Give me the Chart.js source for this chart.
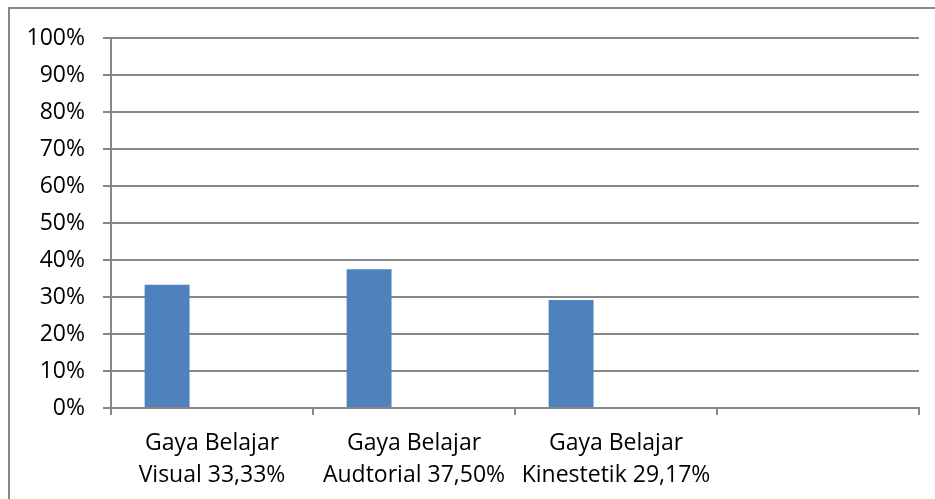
<!DOCTYPE html>
<html>
<head>
<meta charset="utf-8">
<script src="https://cdn.jsdelivr.net/npm/chart.js@4/dist/chart.umd.min.js"></script>
<style>
  html, body { margin: 0; padding: 0; background: #fff; }
  #wrap { width: 935px; height: 499px; position: relative; }
</style>
</head>
<body>
<div id="wrap"><canvas id="myChart" width="935" height="499"></canvas></div>
<script>
// category labels (two lines each), last slot is empty
const categories = [
  ['Gaya Belajar', 'Visual 33,33%'],
  ['Gaya Belajar', 'Audtorial 37,50%'],
  ['Gaya Belajar', 'Kinestetik 29,17%'],
  ''
];
const gayaBelajar = [33.33, 37.50, 29.17, null];
const emptySeries = [null, null, null, null];
const yTicks = [0, 10, 20, 30, 40, 50, 60, 70, 80, 90, 100];

const gray = '#878787';
const labelFont = { family: "'Open Sans', 'Noto Sans', sans-serif", size: 23, lineHeight: 1.4 };

// outer frame around the chart
const frame = {
  id: 'frame',
  beforeDraw(chart) {
    const c = chart.ctx;
    c.save();
    c.fillStyle = '#fff';
    c.fillRect(0, 0, chart.width, chart.height);
    c.strokeStyle = gray;
    c.lineWidth = 2;
    c.strokeRect(9, 8, chart.width + 20, chart.height + 20);
    c.restore();
  }
};

window.addEventListener('load', setup);

function setup() {
  const ctx = document.getElementById('myChart').getContext('2d');
  new Chart(ctx, {
    type: 'bar',
    data: {
      labels: categories,
      datasets: [
        { data: gayaBelajar, backgroundColor: '#4F81BD' },
        { data: emptySeries, backgroundColor: '#C0504D' },
        { data: emptySeries, backgroundColor: '#9BBB59' }
      ]
    },
    options: {
      responsive: false,
      animation: false,
      categoryPercentage: 0.667,
      barPercentage: 1,
      layout: { padding: { top: 38, right: 16, left: 0, bottom: 0 } },
      plugins: { legend: { display: false }, tooltip: { enabled: false } },
      scales: {
        x: {
          grid: { offset: true, drawOnChartArea: false, drawTicks: true, tickLength: 7, color: gray, lineWidth: 2 },
          border: { display: true, color: gray, width: 2 },
          ticks: { color: '#000', font: labelFont, padding: 12, maxRotation: 0, autoSkip: false },
          afterFit(scale) { scale.height = 91; }
        },
        y: {
          min: 0,
          max: 100,
          afterBuildTicks(scale) { scale.ticks = yTicks.map(v => ({ value: v })); },
          grid: { color: gray, lineWidth: 2, tickLength: 8 },
          border: { display: true, color: gray, width: 2 },
          ticks: { color: '#000', font: labelFont, padding: 18, callback: v => v + '%' },
          afterFit(scale) { scale.width = 111; }
        }
      }
    },
    plugins: [frame]
  });
}
</script>
</body>
</html>
